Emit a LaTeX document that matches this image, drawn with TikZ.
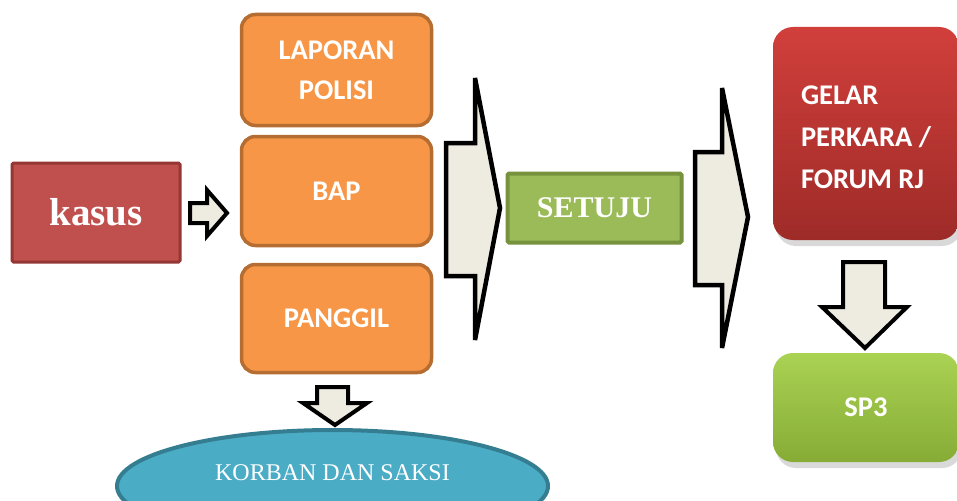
\documentclass[tikz,border=0pt]{standalone}
\usepackage{fontspec}
\setmainfont{Liberation Serif}
\newfontfamily\calibri{Carlito}
\usepackage{tikz}
\usetikzlibrary{positioning,
                shapes.geometric,
                shadows}
\definecolor{kasusred}{HTML}{C0504D}
\definecolor{kasusline}{HTML}{943634}
\definecolor{orangefill}{HTML}{F79646}
\definecolor{orangeline}{HTML}{B66D31}
\definecolor{greenfill}{HTML}{9BBB59}
\definecolor{greenline}{HTML}{76923C}
\definecolor{arrowfill}{HTML}{EEECE1}
\definecolor{bluefill}{HTML}{4BACC6}
\definecolor{blueline}{HTML}{357D91}
\definecolor{redtop}{HTML}{D13F3B}
\definecolor{redbot}{HTML}{9E2B28}
\definecolor{greentop}{HTML}{AAD253}
\definecolor{greenbot}{HTML}{86AC36}

\begin{document}
\begin{tikzpicture}[x=1pt, y=-1pt,
    KS/.style = {draw=kasusline, fill=kasusred, line width=3pt,
                 rounded corners=1.5pt, text=white,
                 font=\bfseries\fontsize{39}{40}\selectfont},
    OR/.style = {draw=orangeline, fill=orangefill, line width=3.5pt,
                 rounded corners=14pt, minimum width=190pt, text=white,
                 align=center, font=\calibri\bfseries\fontsize{28.5}{40}\selectfont},
    GR/.style = {draw=greenline, fill=greenfill, line width=4pt,
                 rounded corners=1.5pt, text=white,
                 font=\bfseries\fontsize{30}{32}\selectfont},
    RT/.style = {text=white, font=\calibri\bfseries\fontsize{28.5}{42}\selectfont},
    RJ/.style = {RT, rounded corners=20pt, minimum width=186pt,
                 drop shadow={opacity=0.3, shadow xshift=3pt, shadow yshift=-6pt}},
    WT/.style = {text=white, font=\fontsize{24}{26}\selectfont},% white text
    BA/.style = {draw=black, fill=arrowfill, line width=4pt,
                 line join=miter}% block arrow
                        ]
\useasboundingbox (0,0) rectangle (957,500);
% left part
\node (kasus) [KS, minimum width=168pt, minimum height=99pt] at (96,212.5) {kasus};
\node (lapor) [OR, minimum height=111pt] at (336.5,70)    {LAPORAN\\POLISI};
\node (bap)   [OR, minimum height=109pt] at (336.5,191)   {BAP};
\node (pgl)   [OR, minimum height=108pt] at (336.5,318.5) {PANGGIL};
\node (saksi) [ellipse, draw=blueline, fill=bluefill, line width=4pt,
               minimum width=431pt, minimum height=112pt] at (332.5,486) {};
\node (saksitxt) [WT] at (332.5,473) {KORBAN DAN SAKSI};
% middle
\node (setuju) [GR, minimum width=174pt, minimum height=69pt] at (594.5,208) {SETUJU};
% right part
\node (gelar) [RJ, top color=redtop, bottom color=redbot,
               minimum height=213pt] at (866,133.5) {};
\node (gelartxt) [RT, align=left] at (866,137.5) {GELAR\\PERKARA /\\FORUM RJ};
\node (sp3)   [RJ, top color=greentop, bottom color=greenbot,
               minimum height=109pt] at (866,407.5) {SP3};
% block arrows
\draw[BA] (190,203) -- (207,203) -- (207,190) -- (227,213)
       -- (207,236) -- (207,223) -- (190,223) -- cycle;
\draw[BA, line width=4.5pt] (446,143) -- (475,143) -- (475,78) -- (500,208)
       -- (475,340) -- (475,276) -- (446,276) -- cycle;
\draw[BA, line width=4.5pt] (695,152) -- (722,152) -- (722,88) -- (748,217)
       -- (722,348) -- (722,285) -- (695,285) -- cycle;
\draw[BA] (843,262) -- (885,262) -- (885,307) -- (907,307) -- (865,348)
       -- (822,307) -- (843,307) -- cycle;
\draw[BA] (317,387) -- (348,387) -- (348,403) -- (367,403) -- (335,425)
       -- (303,403) -- (317,403) -- cycle;
\end{tikzpicture}
\end{document}
